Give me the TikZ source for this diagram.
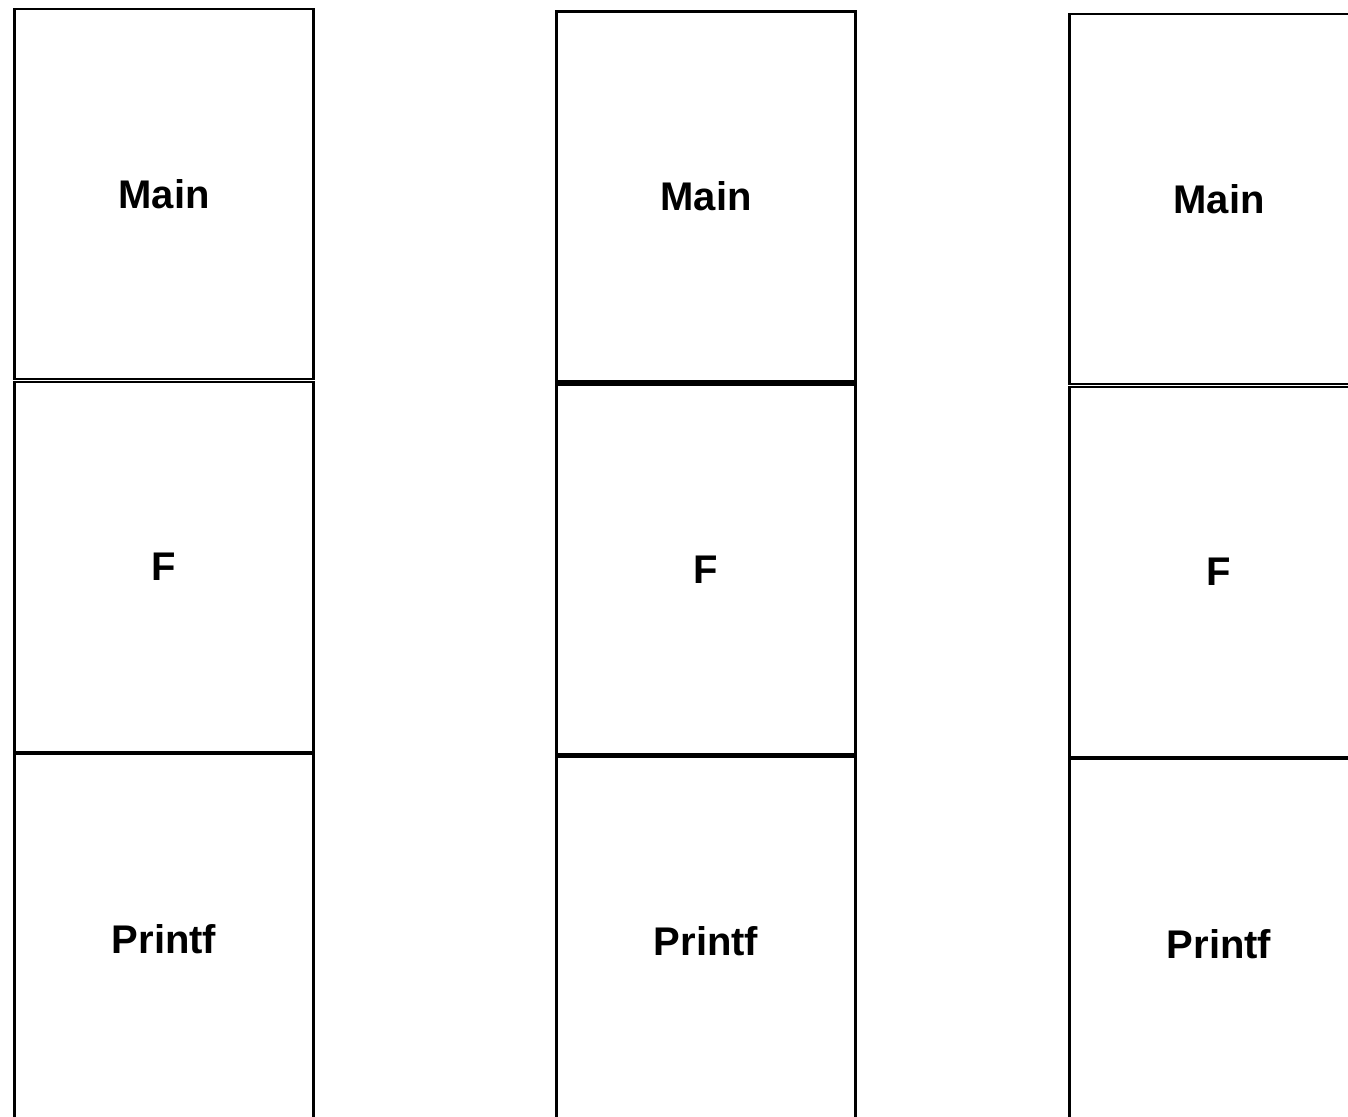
\documentclass[tikz,border=0pt]{standalone}
\usepackage{fontspec}
\setmainfont{Liberation Sans}
\usetikzlibrary{positioning}

\begin{document}
\begin{tikzpicture}[x=1pt,y=-1pt,
  frame/.style={draw,line width=2.4pt,minimum width=299pt,minimum height=370pt,inner sep=0pt,
    font=\fontsize{40}{44}\selectfont\bfseries}]
  \useasboundingbox (0,0) rectangle (1348,1116);
  \clip (0,0) rectangle (1348,1116);
  % first stack
  \node[frame] (main1) at (164,194) {Main};
  \node[frame,below=0.6pt of main1] (f1) {F};
  \node[frame,below=-0.6pt of f1] (printf1) {Printf};
  % second stack
  \node[frame] (main2) at (706,196.5) {Main};
  \node[frame,below=0.6pt of main2] (f2) {F};
  \node[frame,below=-0.6pt of f2] (printf2) {Printf};
  % third stack, cut at the right edge
  \node[frame] (main3) at (1219,199) {Main};
  \node[frame,below=0.6pt of main3] (f3) {F};
  \node[frame,below=-0.6pt of f3] (printf3) {Printf};
\end{tikzpicture}
\end{document}
